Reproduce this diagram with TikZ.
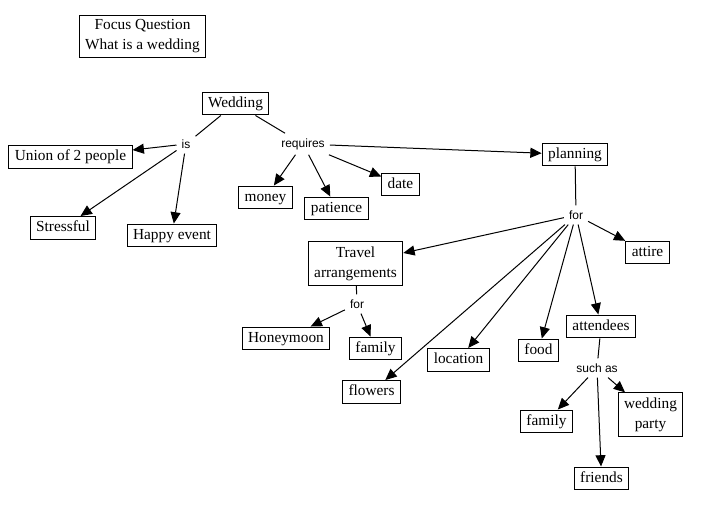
\documentclass[tikz,border=0pt]{standalone}
\usepackage{fontspec}
\setmainfont{Liberation Serif}
\setsansfont{Liberation Sans}
\usetikzlibrary{arrows.meta}
\begin{document}
\begin{tikzpicture}[x=0.75pt, y=-0.75pt, line width=0.75pt,
    >={Triangle[length=8.5pt, width=7.5pt]},
    concept/.style={draw, font=\fontsize{11.5}{15}\selectfont, inner xsep=4.5pt, inner ysep=3pt, text height=8.5pt, text depth=2.7pt},
    concepttwo/.style={draw, font=\fontsize{11.5}{15}\selectfont, inner xsep=4.5pt, inner ysep=3.5pt, align=center},
    link/.style={font=\sffamily\fontsize{9}{10}\selectfont, inner sep=3.5pt}]
    \useasboundingbox (0, 0) rectangle (723, 530);
    \node [concepttwo] (focus) at (142.5, 36.5) {Focus Question\\What is a wedding};
    \node [concept] (wedding) at (235.5, 103.5) {Wedding};
    \node [link] (is) at (186, 144) {is};
    \node [link] (requires) at (303, 144) {requires};
    \node [concept] (union) at (70.5, 157) {Union of 2 people};
    \node [concept] (stressful) at (63, 228) {Stressful};
    \node [concept] (happy) at (172, 235.5) {Happy event};
    \node [concept] (money) at (265.5, 197.5) {money};
    \node [concept] (patience) at (336.5, 208.5) {patience};
    \node [concept] (date) at (400.5, 184.5) {date};
    \node [concept] (planning) at (575, 154.5) {planning};
    \node [link] (forplan) at (576, 215) {for};
    \node [concept] (attire) at (647.5, 252.5) {attire};
    \node [concepttwo] (travel) at (355.5, 263.5) {Travel\\arrangements};
    \node [link] (fortravel) at (357, 304) {for};
    \node [concept] (honeymoon) at (286, 338.5) {Honeymoon};
    \node [concept] (familytravel) at (375.5, 348.5) {family};
    \node [concept] (location) at (458.5, 360) {location};
    \node [concept] (flowers) at (371.5, 392) {flowers};
    \node [concept] (food) at (538.5, 350.5) {food};
    \node [concept] (attendees) at (601, 326.5) {attendees};
    \node [link] (suchas) at (597, 368) {such as};
    \node [concept] (familyatt) at (546.5, 421.5) {family};
    \node [concepttwo] (party) at (650.5, 414.5) {wedding\\party};
    \node [concept] (friends) at (601.5, 478.5) {friends};
    % Wedding
    \draw (wedding) -- (is);
    \draw (wedding) -- (requires);
    \draw [->] (is) -- (union);
    \draw [->] (is) -- (stressful);
    \draw [->] (is) -- (happy);
    \draw [->] (requires) -- (money);
    \draw [->] (requires) -- (patience);
    \draw [->] (requires) -- (date);
    \draw [->] (requires) -- (planning);
    % planning
    \draw (planning) -- (forplan);
    \draw [->] (forplan) -- (travel);
    \draw [->] (forplan) -- (attire);
    \draw [->] (forplan) -- (flowers);
    \draw [->] (forplan) -- (location);
    \draw [->] (forplan) -- (food);
    \draw [->] (forplan) -- (attendees);
    % travel and attendees
    \draw (travel) -- (fortravel);
    \draw [->] (fortravel) -- (honeymoon);
    \draw [->] (fortravel) -- (familytravel);
    \draw (attendees) -- (suchas);
    \draw [->] (suchas) -- (familyatt);
    \draw [->] (suchas) -- (friends);
    \draw [->] (suchas) -- (party);
\end{tikzpicture}
\end{document}
